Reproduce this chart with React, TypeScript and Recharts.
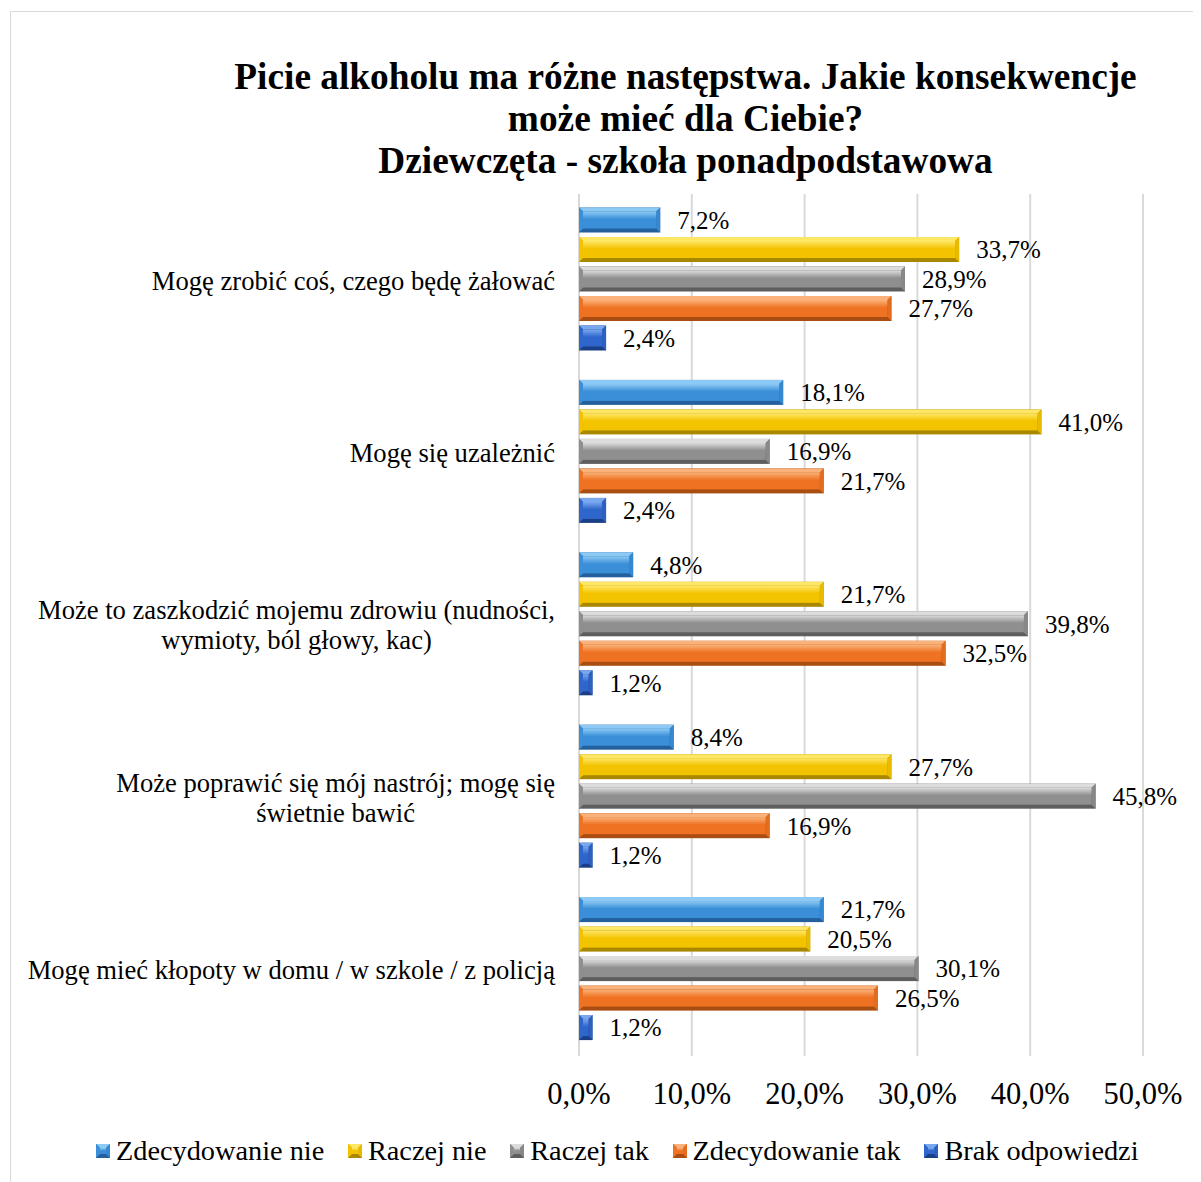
import React from "react";
import { BarChart, Bar, XAxis, YAxis, CartesianGrid, LabelList } from "recharts";

const FONT = '"Liberation Serif", "Times New Roman", serif';
const CAT_FONT_SIZE = 26.6;

const categories = [
  "Mogę zrobić coś, czego będę żałować",
  "Mogę się uzależnić",
  "Może to zaszkodzić mojemu zdrowiu (nudności,\nwymioty, ból głowy, kac)",
  "Może poprawić się mój nastrój; mogę się\nświetnie bawić",
  "Mogę mieć kłopoty w domu / w szkole / z policją",
];

const zdecydowanieNie = [7.2, 18.1, 4.8, 8.4, 21.7];
const raczejNie = [33.7, 41.0, 21.7, 27.7, 20.5];
const raczejTak = [28.9, 16.9, 39.8, 45.8, 30.1];
const zdecydowanieTak = [27.7, 21.7, 32.5, 16.9, 26.5];
const brakOdpowiedzi = [2.4, 2.4, 1.2, 1.2, 1.2];

const xTicks = [0, 10, 20, 30, 40, 50];

const titleLines = [
  "Picie alkoholu ma różne następstwa. Jakie konsekwencje",
  "może mieć dla Ciebie?",
  "Dziewczęta - szkoła ponadpodstawowa",
];

const SERIES = [
  { key: "zn", name: "Zdecydowanie nie", values: zdecydowanieNie, light: "#8ccaf5", base: "#3a8fd8", dark: "#24609e" },
  { key: "rn", name: "Raczej nie", values: raczejNie, light: "#ffe766", base: "#f3c300", dark: "#a98800" },
  { key: "rt", name: "Raczej tak", values: raczejTak, light: "#dcdcdc", base: "#8f8f8f", dark: "#5e5e5e" },
  { key: "zt", name: "Zdecydowanie tak", values: zdecydowanieTak, light: "#fbb27a", base: "#ee7222", dark: "#a94d12" },
  { key: "bo", name: "Brak odpowiedzi", values: brakOdpowiedzi, light: "#7aa8ef", base: "#2f66cc", dark: "#1b3f86" },
];

const data = categories.map((name, i) => {
  const row: Record<string, any> = { name };
  SERIES.forEach((s) => (row[s.key] = s.values[i]));
  return row;
});

const fmt = (v: number) => v.toFixed(1).replace(".", ",") + "%";

let ctx: CanvasRenderingContext2D | null = null;
function textWidth(t: string) {
  if (!ctx) ctx = document.createElement("canvas").getContext("2d");
  if (!ctx) return t.length * CAT_FONT_SIZE * 0.45;
  ctx.font = `${CAT_FONT_SIZE}px "Liberation Serif", "Times New Roman", serif`;
  return ctx.measureText(t).width;
}

function bevel(s: any, x: number, y: number, w: number, h: number, gid: string) {
  const b = Math.min(4, w / 2, h / 2);
  return (
    <g>
      <defs>
        <linearGradient id={gid} x1="0" y1="0" x2="0" y2="1">
          <stop offset="0%" stopColor={s.light} />
          <stop offset="45%" stopColor={s.base} />
          <stop offset="100%" stopColor={s.base} />
        </linearGradient>
      </defs>
      <rect x={x} y={y} width={w} height={h} fill={s.dark} />
      <polygon points={`${x},${y} ${x + w},${y} ${x + w - b},${y + b} ${x + b},${y + b}`} fill={s.light} />
      <polygon points={`${x},${y} ${x + b},${y + b} ${x + b},${y + h - b} ${x},${y + h}`} fill={s.base} />
      <polygon points={`${x + w},${y} ${x + w},${y + h} ${x + w - b},${y + h - b} ${x + w - b},${y + b}`} fill={s.base} opacity={0.85} />
      <rect x={x + b} y={y + b} width={Math.max(0, w - 2 * b)} height={Math.max(0, h - 2 * b)} fill={`url(#${gid})`} />
    </g>
  );
}

const makeShape = (s: any) => (props: any) => {
  const { x, y, width, height } = props;
  if (!width || width <= 0) return <g />;
  return bevel(s, x, y, width, height, "g-" + s.key);
};

// multi-line labels: block right-aligned to the axis, lines centred within the block
const CategoryTick = (props: any) => {
  const { x, y, payload } = props;
  const lines = String(payload.value).split("\n");
  const maxW = Math.max(...lines.map(textWidth));
  const cx = x - maxW / 2;
  return (
    <g>
      {lines.map((ln, i) => (
        <text
          key={i}
          x={lines.length > 1 ? cx : x}
          y={y + (i - (lines.length - 1) / 2) * 30}
          dy="0.35em"
          textAnchor={lines.length > 1 ? "middle" : "end"}
          fontSize={CAT_FONT_SIZE}
          fontFamily={FONT}
          fill="#000"
        >
          {ln}
        </text>
      ))}
    </g>
  );
};

export default function App() {
  return (
    <div style={{ width: 1193, height: 1174, overflow: "hidden", fontFamily: FONT }}>
      <div
        style={{
          position: "relative",
          marginLeft: 2,
          marginTop: 3,
          width: 1200,
          height: 1200,
          border: "1px solid #d9d9d9",
          background: "#fff",
        }}
      >
        <div
          style={{
            position: "absolute",
            left: 674.5,
            top: 43.5,
            transform: "translateX(-50%)",
            textAlign: "center",
            whiteSpace: "nowrap",
            fontSize: 37.3,
            lineHeight: "42px",
            fontWeight: 700,
            color: "#000",
          }}
        >
          {titleLines.map((t) => (
            <div key={t}>{t}</div>
          ))}
        </div>

        <div style={{ position: "absolute", left: 0, top: 0 }}>
          <BarChart
            width={1190}
            height={1170}
            data={data}
            layout="vertical"
            margin={{ top: 182, right: 58, bottom: 66, left: 0 }}
            barCategoryGap={13.5}
            barGap={4.5}
          >
            <CartesianGrid horizontal={false} stroke="#d9d9d9" strokeWidth={2} />
            <XAxis
              type="number"
              domain={[0, 50]}
              ticks={xTicks}
              tickFormatter={fmt}
              axisLine={false}
              tickLine={false}
              tickMargin={20}
              height={60}
              tick={{ fontSize: 30.5, fontFamily: FONT, fill: "#000" }}
            />
            <YAxis
              type="category"
              dataKey="name"
              width={568}
              axisLine={false}
              tickLine={false}
              tickSize={0}
              tickMargin={24}
              tick={<CategoryTick />}
              interval={0}
            />
            {SERIES.map((s) => (
              <Bar
                key={s.key}
                dataKey={s.key}
                name={s.name}
                fill={s.base}
                shape={makeShape(s)}
                isAnimationActive={false}
              >
                <LabelList
                  dataKey={s.key}
                  position="right"
                  offset={17}
                  formatter={(v: any) => fmt(Number(v))}
                  style={{ fontSize: 25, fontFamily: FONT, fill: "#000" }}
                />
              </Bar>
            ))}
          </BarChart>
        </div>

        <div
          style={{
            position: "absolute",
            left: 85,
            top: 1123,
            display: "flex",
            alignItems: "center",
            whiteSpace: "nowrap",
            fontSize: 28.3,
            lineHeight: "32px",
            color: "#000",
          }}
        >
          {SERIES.map((s) => (
            <div key={s.key} style={{ display: "flex", alignItems: "center", marginRight: 23.7 }}>
              <svg width={14} height={14} style={{ marginRight: 6 }}>
                {bevel(s, 0, 0, 14, 14, "lg-" + s.key)}
              </svg>
              <span>{s.name}</span>
            </div>
          ))}
        </div>
      </div>
    </div>
  );
}
